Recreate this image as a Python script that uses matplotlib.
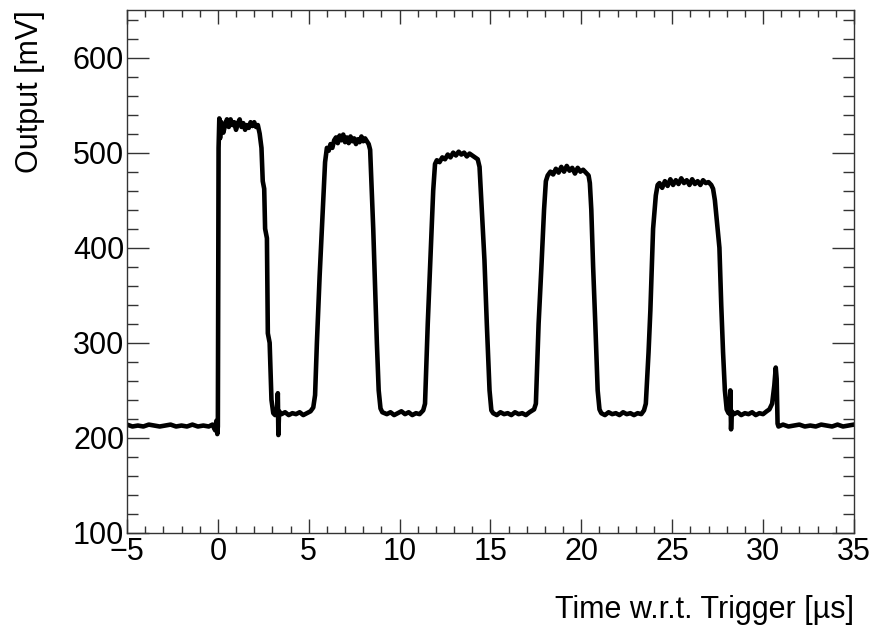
"""
Pulse train output vs time relative to trigger (ROOT-like style).
"""

import numpy as np
import matplotlib
matplotlib.use('Agg')
import matplotlib.pyplot as plt
from matplotlib.ticker import MultipleLocator


# ─── Data (time in µs, output in mV) ─────────────────────────────────────────

t_pre  = [-5.0, -4.7, -4.4, -4.1, -3.8, -3.5, -3.2, -2.9, -2.6, -2.3, -2.0, -1.7,
          -1.4, -1.1, -0.8, -0.5, -0.3, -0.15, -0.08, -0.03]
mv_pre = [214, 212, 213, 212, 214, 213, 212, 213, 214, 212, 213, 212,
          214, 212, 213, 212, 214, 208, 218, 204]

t_p1  = [0.0, 0.04, 0.08, 0.12, 0.2, 0.3, 0.4, 0.5, 0.6, 0.7, 0.8, 0.9, 1.0, 1.1,
         1.2, 1.3, 1.4, 1.5, 1.6, 1.7, 1.8, 1.9, 2.0, 2.1, 2.2, 2.3, 2.4, 2.47,
         2.55, 2.6, 2.7, 2.75, 2.85, 2.95, 3.05]
mv_p1 = [212, 505, 536, 515, 532, 521, 529, 535, 527, 535, 529, 532, 524, 531,
         535, 527, 531, 524, 529, 526, 532, 528, 532, 527, 529, 520, 505, 470,
         462, 420, 410, 310, 300, 240, 226]

t_low1  = [3.15, 3.25, 3.3, 3.33, 3.37, 3.5, 3.7, 3.9, 4.1, 4.3, 4.5, 4.7, 4.9,
           5.1, 5.25]
mv_low1 = [224, 227, 247, 203, 228, 225, 227, 224, 226, 225, 227, 224, 226,
           228, 232]

t_p2  = [5.35, 5.45, 5.6, 5.75, 5.9, 6.0, 6.1, 6.2, 6.3, 6.4, 6.5, 6.6, 6.7, 6.8,
         6.9, 7.0, 7.1, 7.2, 7.3, 7.4, 7.5, 7.6, 7.7, 7.8, 7.9, 8.0, 8.1, 8.2,
         8.3, 8.38, 8.45, 8.55, 8.65, 8.75, 8.85, 8.95]
mv_p2 = [245, 300, 370, 430, 490, 505, 502, 509, 505, 513, 516, 510, 518, 513,
         519, 511, 516, 510, 517, 512, 515, 509, 514, 511, 517, 512, 515, 512,
         509, 503, 470, 420, 360, 300, 250, 231]

t_low2  = [9.05, 9.3, 9.5, 9.7, 9.9, 10.1, 10.3, 10.5, 10.7, 10.9, 11.1, 11.3]
mv_low2 = [227, 225, 227, 224, 226, 228, 225, 227, 224, 226, 225, 229]

t_p3  = [11.4, 11.55, 11.7, 11.85, 11.95, 12.05, 12.2, 12.35, 12.5, 12.65, 12.8,
         12.95, 13.1, 13.25, 13.4, 13.55, 13.7, 13.85, 14.0, 14.15, 14.3, 14.4,
         14.55, 14.67, 14.8, 14.95, 15.05]
mv_p3 = [236, 320, 390, 460, 488, 492, 490, 495, 493, 498, 495, 500, 497, 501,
         498, 500, 496, 499, 497, 495, 493, 485, 430, 387, 320, 250, 229]

t_low3  = [15.15, 15.35, 15.55, 15.75, 15.95, 16.15, 16.35, 16.55, 16.75, 16.95,
           17.15, 17.4]
mv_low3 = [226, 224, 227, 225, 226, 224, 227, 225, 226, 224, 227, 230]

t_p4  = [17.5, 17.65, 17.8, 17.95, 18.05, 18.15, 18.3, 18.45, 18.6, 18.75, 18.9,
         19.05, 19.2, 19.35, 19.5, 19.65, 19.8, 19.95, 20.1, 20.25, 20.4, 20.47,
         20.55, 20.65, 20.77, 20.9, 21.0]
mv_p4 = [236, 320, 378, 440, 470, 476, 480, 477, 483, 479, 485, 480, 486, 481,
         484, 478, 484, 480, 482, 479, 476, 468, 440, 380, 320, 250, 230]

t_low4  = [21.1, 21.3, 21.5, 21.7, 21.9, 22.1, 22.3, 22.5, 22.7, 22.9, 23.1,
           23.3, 23.45]
mv_low4 = [226, 224, 227, 225, 226, 224, 227, 225, 226, 224, 226, 225, 229]

t_p5  = [23.55, 23.7, 23.8, 23.95, 24.1, 24.2, 24.3, 24.45, 24.6, 24.75, 24.9,
         25.05, 25.2, 25.35, 25.5, 25.65, 25.8, 25.95, 26.1, 26.25, 26.4, 26.55,
         26.7, 26.85, 27.0, 27.15, 27.25, 27.35, 27.45, 27.6, 27.7, 27.8, 27.9,
         28.0, 28.1]
mv_p5 = [236, 290, 334, 420, 455, 466, 468, 463, 470, 465, 472, 466, 471, 467,
         473, 468, 471, 466, 472, 467, 470, 466, 471, 468, 469, 466, 462, 450,
         430, 400, 340, 290, 250, 230, 226]

t_low5  = [28.17, 28.2, 28.24, 28.28, 28.4, 28.6, 28.8, 29.0, 29.2, 29.4, 29.6,
           29.8, 30.0, 30.2, 30.35, 30.5, 30.62, 30.7, 30.75, 30.8]
mv_low5 = [226, 250, 209, 228, 225, 227, 224, 226, 225, 227, 224, 226, 225,
           228, 230, 236, 255, 274, 262, 215]

t_post  = [30.85, 31.1, 31.4, 31.7, 32.0, 32.3, 32.6, 32.9, 33.2, 33.5, 33.8,
           34.1, 34.4, 34.7, 35.0]
mv_post = [212, 214, 212, 213, 214, 212, 213, 212, 214, 213, 212, 214, 212,
           213, 214]

# ─── Style ───────────────────────────────────────────────────────────────────

plt.rcParams['font.family'] = ['Liberation Sans', 'DejaVu Sans']
plt.rcParams['axes.unicode_minus'] = True

segments_t  = [t_pre, t_p1, t_low1, t_p2, t_low2, t_p3, t_low3, t_p4, t_low4,
               t_p5, t_low5, t_post]
segments_mv = [mv_pre, mv_p1, mv_low1, mv_p2, mv_low2, mv_p3, mv_low3, mv_p4,
               mv_low4, mv_p5, mv_low5, mv_post]
time = np.concatenate([np.asarray(s, dtype=float) for s in segments_t])
output = np.concatenate([np.asarray(s, dtype=float) for s in segments_mv])

fig = plt.figure(figsize=(8.74, 6.25), dpi=100)
ax = fig.add_axes([0.1453, 0.1472, 0.8317, 0.8368])

ax.plot(time, output, color='black', linewidth=3.3, solid_joinstyle='round')

ax.set_xlim(-5, 35)
ax.set_ylim(100, 650)

ax.xaxis.set_major_locator(MultipleLocator(5))
ax.xaxis.set_minor_locator(MultipleLocator(1))
ax.yaxis.set_major_locator(MultipleLocator(100))
ax.yaxis.set_minor_locator(MultipleLocator(20))

ax.tick_params(axis='both', which='both', direction='in', top=True, right=True,
               width=1.0, color='#333333', labelsize=22)
ax.tick_params(axis='x', which='major', length=10, pad=3)
ax.tick_params(axis='x', which='minor', length=5)
ax.tick_params(axis='y', which='major', length=16, pad=2)
ax.tick_params(axis='y', which='minor', length=8)

for sp in ax.spines.values():
    sp.set_linewidth(1.0)
    sp.set_color('#333333')

ax.set_xlabel('Time w.r.t. Trigger [µs]', fontsize=22, loc='right', labelpad=20)
ax.set_ylabel('Output [mV]', fontsize=22, loc='top', labelpad=20)

fig.savefig('out.png', dpi=100)
